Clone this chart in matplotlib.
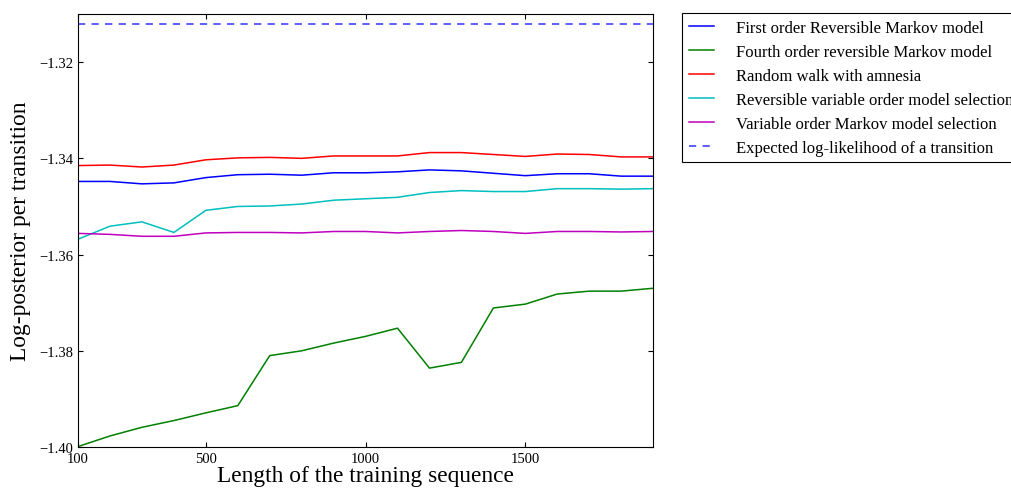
import matplotlib
matplotlib.use("Agg")
import matplotlib.pyplot as plt

plt.rcParams['font.family'] = ['Liberation Serif', 'DejaVu Serif']
plt.rcParams['axes.unicode_minus'] = True

lengths = [100, 200, 300, 400, 500, 600, 700, 800, 900, 1000,
           1100, 1200, 1300, 1400, 1500, 1600, 1700, 1800, 1900]

first_order = [-1.3448, -1.3448, -1.3453, -1.3451, -1.3440, -1.3434, -1.3433, -1.3435, -1.3430, -1.3430,
               -1.3428, -1.3424, -1.3426, -1.3431, -1.3436, -1.3432, -1.3432, -1.3437, -1.3437]
fourth_order = [-1.3999, -1.3977, -1.3959, -1.3945, -1.3929, -1.3914, -1.3810, -1.3800, -1.3784, -1.3770,
                -1.3753, -1.3836, -1.3824, -1.3711, -1.3703, -1.3682, -1.3676, -1.3676, -1.3670]
random_walk = [-1.3415, -1.3414, -1.3418, -1.3414, -1.3403, -1.3399, -1.3398, -1.3400, -1.3395, -1.3395,
               -1.3395, -1.3388, -1.3388, -1.3392, -1.3396, -1.3391, -1.3392, -1.3397, -1.3397]
rev_var_order = [-1.3568, -1.3541, -1.3532, -1.3554, -1.3508, -1.3500, -1.3499, -1.3495, -1.3487, -1.3484,
                 -1.3481, -1.3471, -1.3467, -1.3469, -1.3469, -1.3463, -1.3463, -1.3464, -1.3463]
var_order = [-1.3556, -1.3558, -1.3562, -1.3562, -1.3555, -1.3554, -1.3554, -1.3555, -1.3552, -1.3552,
             -1.3555, -1.3552, -1.3550, -1.3552, -1.3556, -1.3552, -1.3552, -1.3553, -1.3552]
expected_ll = -1.3120

labels = ["First order Reversible Markov model",
          "Fourth order reversible Markov model",
          "Random walk with amnesia",
          "Reversible variable order model selection",
          "Variable order Markov model selection",
          "Expected log-likelihood of a transition"]
xticks = [100, 500, 1000, 1500]
yticks = [-1.40, -1.38, -1.36, -1.34, -1.32]

fig = plt.figure(figsize=(10.11, 4.89), dpi=100)
ax = fig.add_axes([0.0772, 0.0838, 0.5688, 0.8855])

ax.plot(lengths, first_order, color='b', lw=1.1, label=labels[0])
ax.plot(lengths, fourth_order, color='g', lw=1.1, label=labels[1])
ax.plot(lengths, random_walk, color='r', lw=1.1, label=labels[2])
ax.plot(lengths, rev_var_order, color='c', lw=1.1, label=labels[3])
ax.plot(lengths, var_order, color='m', lw=1.1, label=labels[4])
ax.axhline(expected_ll, color='#5050ff', lw=1.3, ls=(0, (4, 3.5)), label=labels[5])

ax.set_xlim(100, 1900)
ax.set_ylim(-1.40, -1.31)
ax.set_xticks(xticks)
ax.set_xticklabels([str(t) for t in xticks])
ax.set_yticks(yticks)
ax.set_yticklabels(["\u2212%.2f" % abs(t) for t in yticks])
ax.tick_params(direction='in', top=True, right=True, labelsize=10.5, length=3.5, pad=3.5)
ax.set_xlabel("Length of the training sequence", fontsize=16.8, labelpad=0)
ax.set_ylabel("Log-posterior per transition", fontsize=16.8, labelpad=6)

leg = ax.legend(loc='upper left', bbox_to_anchor=(1.05, 1.002), fontsize=12,
                fancybox=False, edgecolor='black', framealpha=1, handlelength=1.5,
                handletextpad=1.35, borderaxespad=0, labelspacing=0.48)
leg.get_frame().set_linewidth(0.8)

fig.savefig("out.png", dpi=100)
